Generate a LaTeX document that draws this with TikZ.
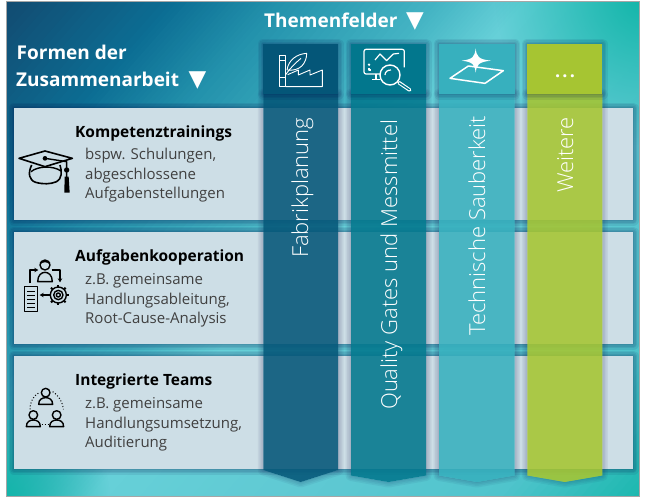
\documentclass[tikz,border=0pt]{standalone}
\usepackage{fontspec}
\setmainfont{Open Sans}
\newfontfamily\lightf{Open Sans Light}
\newfontfamily\symf{DejaVu Sans}
\usetikzlibrary{fadings,arrows.meta}
\tikzfading[name=fadeblob,inner color=transparent!0,outer color=transparent!100]
\definecolor{bgA}{HTML}{124A70}
\definecolor{bgB}{HTML}{0C6E94}
\definecolor{bgC}{HTML}{2392AC}
\definecolor{bgD}{HTML}{45B5C4}
\definecolor{bgE}{HTML}{66D0D8}
\definecolor{bgF}{HTML}{5FC9D3}
\definecolor{bgG}{HTML}{4FC4CC}
\definecolor{bgH}{HTML}{10B5A8}
\definecolor{cardc}{HTML}{CDDEE6}
\definecolor{colA}{HTML}{045678}
\definecolor{colB}{HTML}{02778D}
\definecolor{colC}{HTML}{37B0BE}
\definecolor{colD}{HTML}{A6C532}
\definecolor{bodyt}{HTML}{404040}
% soft shadow painted only outside the given path
\newcommand\softshadow[2][.08]{\begin{scope}[even odd rule]\clip (0,0) rectangle (647,498) #2;\foreach \w in {11,8,5,2}{\draw[black!75!blue,opacity=#1,line width=\w pt,line join=round] #2;}\end{scope}}
\tikzset{
  heading/.style={text=white,font=\fontsize{19}{22}\selectfont\bfseries,anchor=base west,inner sep=0pt},
  tri/.style={text=white,font=\symf\fontsize{23}{23}\selectfont,anchor=base west,inner sep=0pt},
  cardtitle/.style={text=black,font=\fontsize{15.5}{18}\selectfont\bfseries,anchor=base west,inner sep=0pt},
  cardbody/.style={text=bodyt,font=\fontsize{15}{18}\selectfont,anchor=base west,inner sep=0pt},
  coltext/.style={text=white,font=\lightf\fontsize{22}{24}\selectfont,anchor=base west,inner sep=0pt,rotate=90},
  iconw/.style={draw=white,line width=1.2pt,line join=round},
  iconk/.style={draw=black,line width=1.4pt,line join=round}
}
\begin{document}
\begin{tikzpicture}[x=1pt,y=-1pt]
\useasboundingbox (0,0) rectangle (647,498);
\fill[white] (0,0) rectangle (647,498);
% background
\begin{scope}
\clip (6,1) rectangle (639,496);
\begin{scope}[x={(.75pt,-.66pt)},y={(.66pt,.75pt)}]
\foreach \ta/\tb/\ca/\cb in {0/130/bgA/bgB,130/210/bgB/bgC,210/330/bgC/bgD,330/395/bgD/bgE,395/550/bgE/bgF,550/700/bgF/bgG,700/830/bgG/bgH}{
  \foreach \p in {0,5,...,95}{
    \pgfmathsetmacro\tcur{\ta+(\tb-\ta)*\p/100}
    \fill[\cb!\p!\ca] (\tcur,-1500) -- (2000,-1500) -- (2000,1500) -- (\tcur,1500) -- cycle;
  }
}
\end{scope}
\fill[bgH,path fading=fadeblob] (645,-5) circle (150);
\fill[bgH,path fading=fadeblob] (0,500) circle (110);
\end{scope}
\draw[gray!70,line width=.8pt] (6,1) rectangle (639,496);
% cards
\foreach \ya/\yb in {108/220,232/344,356/469}{
  \softshadow{(14,\ya) rectangle (633,\yb)}
  \fill[cardc] (14,\ya) rectangle (633,\yb);
}
% columns
\foreach \xa/\xb/\ys/\cc in {263.3/338/470/colA,351/426/475.5/colB,439/514.7/475.5/colC,527.3/602.3/475.5/colD}{
  \pgfmathsetmacro\xm{(\xa+\xb)/2}
  \softshadow[.05]{(\xa,94) -- (\xb,94) -- (\xb,\ys) -- (\xm,482) -- (\xa,\ys) -- cycle}
  \fill[\cc,opacity=.88] (\xa,94) -- (\xb,94) -- (\xb,\ys) -- (\xm,482) -- (\xa,\ys) -- cycle;
  \softshadow[.07]{(\xa,44) rectangle (\xb,94)}
  \fill[\cc] (\xa,44) rectangle (\xb,94);
}
% headings
\node[heading] (themen) at (264,27) {Themenfelder};
\node[tri] (themtri) at (406,27) {▼};
\node[heading] (formen) at (16.5,59) {Formen der};
\node[heading] (zusammen) at (16,86.5) {Zusammenarbeit};
\node[tri] (zustri) at (188.5,86.5) {▼};
% card text
\node[cardtitle] (t1) at (75,137) {Kompetenztrainings};
\node[cardbody] (b1a) at (85,159) {bspw. Schulungen,};
\node[cardbody] (b1b) at (85,179) {abgeschlossene};
\node[cardbody] (b1c) at (85,198) {Aufgabenstellungen};
\node[cardtitle] (t2) at (75,261) {Aufgabenkooperation};
\node[cardbody] (b2a) at (85,284) {z.B. gemeinsame};
\node[cardbody] (b2b) at (85,304) {Handlungsableitung,};
\node[cardbody] (b2c) at (85,323) {Root-Cause-Analysis};
\node[cardtitle] (t3) at (75,385) {Integrierte Teams};
\node[cardbody] (b3a) at (85,408) {z.B. gemeinsame};
\node[cardbody] (b3b) at (85,428) {Handlungsumsetzung,};
\node[cardbody] (b3c) at (85,447) {Auditierung};
% column text
\node[coltext] (c1) at (308,258) {Fabrikplanung};
\node[coltext] (c2) at (397,410) {Quality Gates und Messmittel};
\node[coltext] (c3) at (485,336) {Technische Sauberkeit};
\node[coltext] (c4) at (573,193) {Weitere};
\node[text=white,font=\fontsize{18}{20}\selectfont\bfseries,anchor=base,inner sep=0pt] (dots) at (565,77.5) {.\kern2.2pt.\kern2.2pt.};
% hat icon
\begin{scope}[shift={(15,145)},scale=1/3]
\draw[iconk,line width=1.6pt] (12,40) -- (90,18) -- (172,40) -- (90,65) -- cycle;
\fill (90,40) circle (7);
\draw[iconk] (90,40) -- (155,50) -- (155,100);
\draw[iconk,line width=1.6pt] (50,60) .. controls (38,85) and (42,105) .. (62,112) .. controls (85,118) and (105,118) .. (125,110) .. controls (140,102) and (142,80) .. (135,60);
\draw[iconk] (48,80) .. controls (70,62) and (115,62) .. (138,78);
\fill (155,75) circle (8);
\fill (149,95) -- (161,95) -- (164,143) -- (148,143) -- cycle;
\end{scope}
% cooperation icon
\begin{scope}[shift={(15,255)},scale=1/3]
\draw[iconk] (90,30) circle (15);
\draw[iconk] (75,25) .. controls (85,18) and (95,18) .. (105,25);
\draw[iconk] (68,80) .. controls (68,60) and (80,52) .. (90,52) .. controls (100,52) and (112,60) .. (112,80) -- cycle;
\draw[iconk,-{Stealth[length=4pt,width=4.5pt]}] (45,85) -- (45,45) -- (70,45);
\draw[iconk,-{Stealth[length=4pt,width=4.5pt]}] (110,45) -- (135,45) -- (135,82);
\draw[iconk,line width=1.5pt] (28,95) rectangle (68,170);
\foreach \yy in {110,122,134,146,158}{\draw[iconk,line width=1.1pt] (36,\yy) -- (60,\yy);}
\draw[iconk,-{Stealth[length=4pt,width=4.5pt]}] (100,120) -- (74,120);
\draw[iconk] (130,120) circle (24);
\draw[iconk] (130,120) circle (14);
\draw[iconk] (130,120) circle (6);
\foreach \a in {0,45,...,315}{\draw[iconk,line width=2pt] (130,120) ++(\a:24) -- ++(\a:7);}
\end{scope}
% teams icon
\begin{scope}[shift={(15,380)},scale=1/3]
\foreach \px/\py in {92/38,55/105,125/105}{
  \draw[iconk] (\px,\py) circle (13);
  \draw[iconk] (\px-21,\py+35) .. controls (\px-21,\py+20) and (\px-10,\py+15) .. (\px,\py+15) .. controls (\px+10,\py+15) and (\px+21,\py+20) .. (\px+21,\py+35) -- cycle;
}
\draw[black,line width=1pt,dotted] (45,88) .. controls (45,65) and (55,48) .. (72,38);
\draw[black,line width=1pt,dotted] (113,35) .. controls (130,45) and (143,65) .. (145,88);
\draw[black,line width=1pt,dotted] (80,132) -- (102,132);
\end{scope}
% factory icon
\begin{scope}[shift={(265,40)},scale=1/3]
\draw[iconw,line width=.9pt] (42,45) rectangle (62,140);
\draw[iconw,line width=.9pt] (42,60) -- (62,60);
\draw[iconw,line width=.9pt] (42,112) -- (62,112);
\draw[iconw,line width=.9pt] (62,140) -- (172,140) -- (172,90) -- (135,105) -- (135,90) -- (100,105) -- (100,90) -- (68,104);
\draw[iconw,line width=.9pt] (66,90) .. controls (70,60) and (95,42) .. (125,40) .. controls (125,70) and (105,95) .. (66,90);
\draw[iconw,line width=.9pt] (62,104) .. controls (75,85) and (90,70) .. (108,55);
\end{scope}
% monitor icon
\begin{scope}[shift={(265,40)},scale=1/3]
\draw[iconw,rounded corners=2pt] (345,102) -- (297,102) -- (297,28) -- (418,28) -- (418,82);
\draw[iconw] (333,102) -- (333,118);
\draw[iconw] (322,118) -- (346,118);
\draw[iconw] (330,60) -- (345,42) -- (365,62) -- (385,42) -- (402,40);
\fill[white] (312,74) circle (4);
\draw[iconw] (312,84) -- (312,90) -- (318,90);
\draw[iconw,line width=1.4pt] (375,105) circle (30);
\draw[iconw] (360,105) .. controls (360,95) and (368,90) .. (378,90);
\draw[white,line width=3.6pt,line cap=round] (402,128) -- (434,150);
\draw[colB,line width=1.4pt,line cap=round] (403,129) -- (433,149);
\end{scope}
% star icon
\begin{scope}[shift={(435,40)},scale=1/3]
\draw[iconw,line width=1.5pt] (45,115) -- (100,78) -- (205,92) -- (150,130) -- cycle;
\fill[white] (122,25) .. controls (125,50) and (130,58) .. (168,62) .. controls (130,66) and (125,74) .. (122,98) .. controls (119,74) and (114,66) .. (80,62) .. controls (114,58) and (119,50) .. (122,25) -- cycle;
\end{scope}
\end{tikzpicture}
\end{document}
